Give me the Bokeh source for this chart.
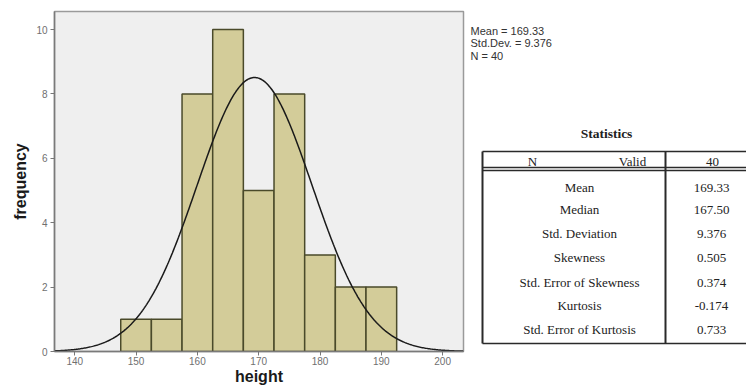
import numpy as np
from bokeh.plotting import figure
from bokeh.layouts import row
from bokeh.models import Range1d, FixedTicker
from bokeh.core.properties import value
from bokeh.embed import file_html
from bokeh.resources import INLINE

# ---- data ----
bin_edges = [147.5, 152.5, 157.5, 162.5, 167.5, 172.5, 177.5, 182.5, 187.5, 192.5]
counts = [1, 1, 8, 10, 5, 8, 3, 2, 2]
mean_val = 169.33
sd_val = 9.376
n_val = 40
x_ticks = [140, 150, 160, 170, 180, 190, 200]
y_ticks = [0, 2, 4, 6, 8, 10]

summary_lines = ["Mean = 169.33", "Std.Dev. = 9.376", "N = 40"]
table_title = "Statistics"
header_cells = ["N", "Valid", "40"]
stat_names = ["Mean", "Median", "Std. Deviation", "Skewness",
              "Std. Error of Skewness", "Kurtosis", "Std. Error of Kurtosis"]
stat_values = ["169.33", "167.50", "9.376", "0.505", "0.374", "-0.174", "0.733"]

TOP, BOTTOM, H = 11, 36, 387

# ---- histogram ----
p1 = figure(width=468, height=H, x_range=Range1d(136.7, 203.4), y_range=Range1d(0, 10.56),
            output_backend="svg", toolbar_location=None,
            min_border_left=54, min_border_right=5, min_border_top=TOP, min_border_bottom=BOTTOM)
p1.background_fill_color = "#efefef"
p1.border_fill_color = "white"
p1.xgrid.visible = False
p1.ygrid.visible = False
p1.outline_line_color = "#9a9a9a"
p1.outline_line_width = 1.5

p1.quad(left=bin_edges[:-1], right=bin_edges[1:], top=counts, bottom=0,
        fill_color="#d3cc99", line_color="#4a4a2a", line_width=1.5)

bw = bin_edges[1] - bin_edges[0]
xs = np.linspace(136.7, 203.4, 400)
ys = n_val * bw * np.exp(-0.5 * ((xs - mean_val) / sd_val) ** 2) / (sd_val * np.sqrt(2 * np.pi))
p1.line(xs, ys, line_color="#1a1a1a", line_width=1.5)

for ax, ticks in ((p1.xaxis, x_ticks), (p1.yaxis, y_ticks)):
    ax.ticker = FixedTicker(ticks=ticks)
    ax.minor_tick_line_color = None
    ax.major_tick_in = 0
    ax.major_tick_out = 4
    ax.major_tick_line_color = "#777777"
    ax.axis_line_color = "#7a7a7a"
    ax.axis_line_width = 1.5
    ax.major_label_text_font = "Liberation Sans"
    ax.major_label_text_font_size = "10px"
    ax.major_label_text_color = "#707070"
    ax.axis_label_text_font = "Liberation Sans"
    ax.axis_label_text_font_size = "16px"
    ax.axis_label_text_font_style = "bold"
    ax.axis_label_text_color = "#1a1a1a"

p1.xaxis.axis_label = "height"
p1.yaxis.axis_label = "frequency"
p1.xaxis.major_label_standoff = 1
p1.xaxis.axis_label_standoff = 0
p1.yaxis.major_label_standoff = 3
p1.yaxis.axis_label_standoff = 4

# ---- statistics panel (coordinates in page pixels; frame aligned with p1's frame) ----
p2 = figure(width=278, height=H, x_range=Range1d(468, 746), y_range=Range1d(H - BOTTOM, TOP),
            output_backend="svg", toolbar_location=None,
            min_border_left=0, min_border_right=0, min_border_top=TOP, min_border_bottom=BOTTOM,
            x_axis_location=None, y_axis_location=None)
p2.outline_line_color = None
p2.xgrid.visible = False
p2.ygrid.visible = False
p2.background_fill_color = "white"
p2.border_fill_color = "white"

p2.text(x=[470] * 3, y=[30, 42.5, 55], text=summary_lines,
        text_font=value("Liberation Sans"), text_font_size="11px",
        text_align="left", text_baseline="middle", text_color="#333333")

p2.text(x=[606], y=[133], text=[table_title], text_font=value("Liberation Serif"),
        text_font_size="13.5px", text_font_style="bold", text_align="center",
        text_baseline="middle", text_color="#222222")

p2.text(x=[532, 632, 712], y=[161, 161, 161], text=header_cells,
        text_font=value("Liberation Serif"), text_font_size="13px",
        text_align="center", text_baseline="middle", text_color="#222222")

row_y = [187, 209, 233, 257, 282, 305, 329]
p2.text(x=[579] * len(stat_names), y=row_y, text=stat_names,
        text_font=value("Liberation Serif"), text_font_size="13px",
        text_align="center", text_baseline="middle", text_color="#222222")
p2.text(x=[711] * len(stat_values), y=row_y, text=stat_values,
        text_font=value("Liberation Serif"), text_font_size="13px",
        text_align="center", text_baseline="middle", text_color="#222222")

# table rules
p2.segment(x0=[482, 482, 482, 482], y0=[151, 167, 170, 343],
           x1=[746, 746, 746, 746], y1=[151, 167, 170, 343],
           line_color="#2a2a2a", line_width=1.6)
p2.segment(x0=[482, 665], y0=[151, 151], x1=[482, 665], y1=[343, 343],
           line_color="#2a2a2a", line_width=2)

layout = row(p1, p2)
open("out.html", "w").write(file_html(layout, INLINE))
